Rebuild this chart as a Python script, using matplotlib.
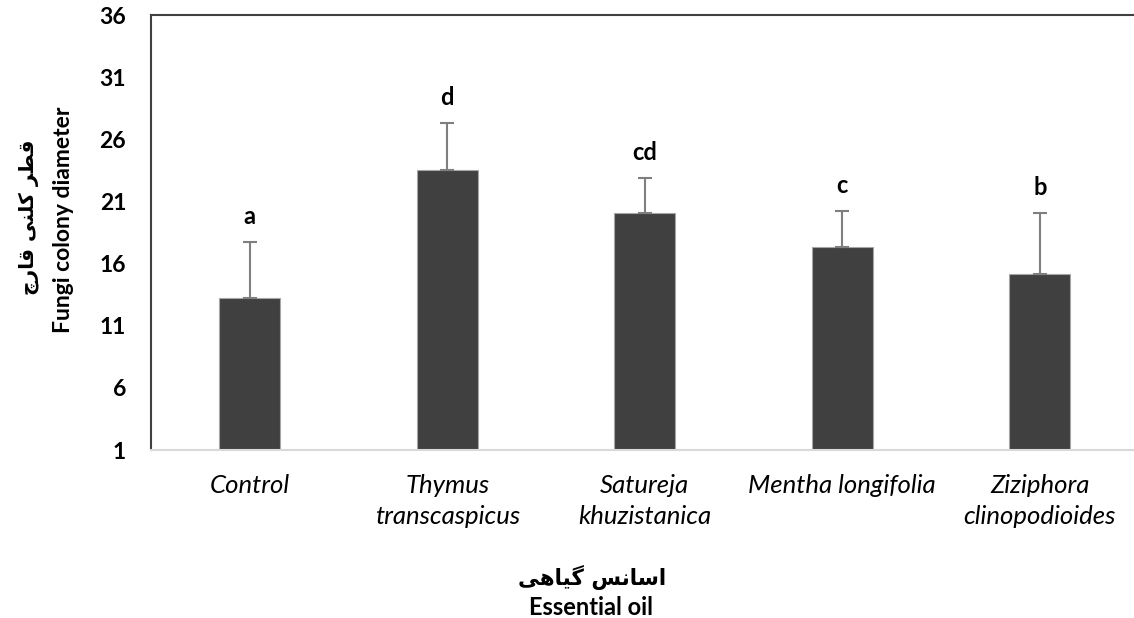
import matplotlib.pyplot as plt
import numpy as np

# colony diameter per essential oil, with upper error and group letters
oils = ["Control", "Thymus\ntranscaspicus", "Satureja\nkhuzistanica",
        "Mentha longifolia", "Ziziphora\nclinopodioides"]
diameter = [13.2, 23.5, 20.1, 17.3, 15.2]
err_up = [4.5, 3.8, 2.8, 2.9, 4.9]
groups = ["a", "d", "cd", "c", "b"]
yticks = [1, 6, 11, 16, 21, 26, 31, 36]

# Persian labels, written in shaped presentation forms (visual order)
fa_ylabel = "\uFB7A\uFEAD\uFE8E\uFED7 \uFBFD\uFEE8\uFEE0\uFB90 \uFEAE\uFEC4\uFED7"
fa_xlabel = "\uFBFD\uFEEB\uFE8E\uFBFF\uFB94 \uFEB2\uFEE7\uFE8E\uFEB3\uFE8D"

plt.rcParams['font.family'] = ['Lato', 'DejaVu Sans']

fig = plt.figure(figsize=(11.34, 6.18), dpi=100)
ax = fig.add_axes([0.1332, 0.2718, 0.8708, 0.7039])

x = np.arange(len(oils))
ax.bar(x, diameter, width=0.31, color='#404040', edgecolor='#a6a6a6',
       linewidth=0.8, zorder=2)
ax.errorbar(x, diameter, yerr=[np.zeros(len(x)), err_up], fmt='none',
            ecolor='#7f7f7f', elinewidth=1.5, capsize=5.2, capthick=1.5, zorder=3)

for xi, m, e, g in zip(x, diameter, err_up, groups):
    ax.annotate(g, xy=(xi, m + e), xytext=(0, 13), textcoords='offset points',
                ha='center', va='baseline', fontsize=17, fontweight='bold')

ax.set_xlim(-0.5, len(oils) - 0.5)
ax.set_ylim(1, 36)
ax.set_yticks(yticks)
ax.set_yticklabels([str(t) for t in yticks], fontsize=16.5, fontweight='bold')
ax.set_xticks(x)
ax.set_xticklabels(oils, fontsize=18.5, style='italic', linespacing=1.45)
ax.tick_params(axis='both', length=0)
ax.tick_params(axis='y', pad=18)
ax.tick_params(axis='x', pad=17)

for s in ['left', 'top']:
    ax.spines[s].set_color('#404040')
    ax.spines[s].set_linewidth(1.5)
ax.spines['bottom'].set_color('#d9d9d9')
ax.spines['bottom'].set_linewidth(1.5)
ax.spines['right'].set_visible(False)

fig.text(0.025, 0.648, fa_ylabel, rotation=90, ha='center', va='center',
         fontsize=14.5, fontweight='bold', family=['DejaVu Sans'])
fig.text(0.056, 0.645, "Fungi colony diameter", rotation=90, ha='center',
         va='center', fontsize=16.5, fontweight='bold')
fig.text(0.522, 0.066, fa_xlabel, ha='center', va='center',
         fontsize=15.5, fontweight='bold', family=['DejaVu Sans'])
fig.text(0.521, 0.017, "Essential oil", ha='center', va='center',
         fontsize=17, fontweight='bold')

fig.savefig('out.png', dpi=100)
